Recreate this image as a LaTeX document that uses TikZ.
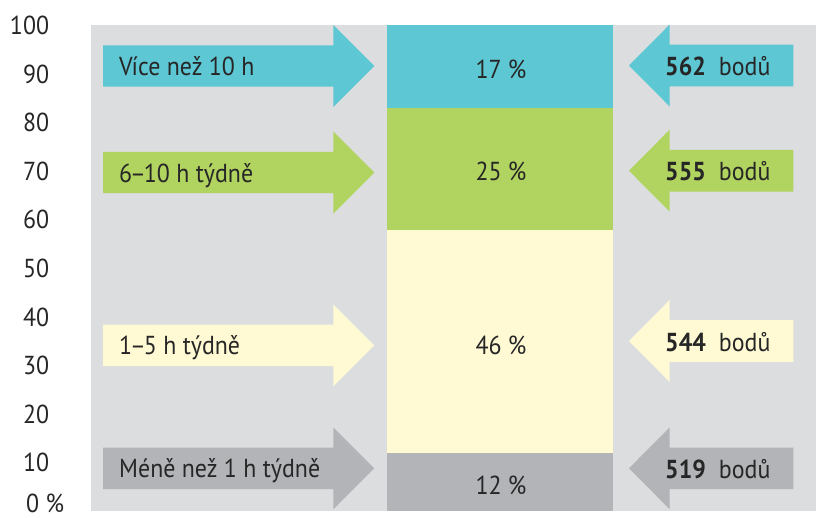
\documentclass[tikz,border=0pt]{standalone}
\usepackage{fontspec}
\setmainfont[FakeStretch=0.92]{PT Sans}
\definecolor{bgc}{HTML}{DCDDDF}
\definecolor{cyanc}{HTML}{5EC7D4}
\definecolor{greenc}{HTML}{B1D360}
\definecolor{yellowc}{HTML}{FFFAD4}
\definecolor{grayc}{HTML}{B3B4B8}
\definecolor{txt}{HTML}{262626}
\tikzset{
  seg/.style={inner sep=0pt, outer sep=0pt, anchor=north west, minimum width=226pt},
  lab/.style={inner sep=0pt, text=txt, font=\fontsize{26}{30}\selectfont},
  axlab/.style={lab, anchor=base east},
}
\begin{document}
\begin{tikzpicture}[x=1pt,y=-1pt]
\useasboundingbox (0,0) rectangle (816,517);
\fill[bgc] (91,25) rectangle (816,510.7);
% bar segments
\node[seg, fill=cyanc, minimum height=82.7pt] (s1) at (386.7,25) {};
\node[seg, fill=greenc, minimum height=122pt] (s2) at (386.7,107.7) {};
\node[seg, fill=yellowc, minimum height=223pt] (s3) at (386.7,229.7) {};
\node[seg, fill=grayc, minimum height=58pt] (s4) at (386.7,452.7) {};
\node[lab, anchor=base] (p1) at (501,78) {17 \%};
\node[lab, anchor=base] (p2) at (501,180) {25 \%};
\node[lab, anchor=base] (p3) at (501,354) {46 \%};
\node[lab, anchor=base] (p4) at (501,494) {12 \%};
% left arrows
\foreach \c/\col/\t/\n in {66/cyanc/Více než 10 h/1, 172.5/greenc/6{\kern-0.08em}–{\kern-0.08em}10 h týdně/2, 345.3/yellowc/1{\kern-0.08em}–{\kern-0.08em}5 h týdně/3, 468.3/grayc/Méně než 1 h týdně/4}{
  \begin{scope}[shift={(0,\c)}]
    \fill[\col] (103,-20.7) -- (333.3,-20.7) -- (333.3,-41) -- (374.3,0) -- (333.3,41) -- (333.3,20.7) -- (103,20.7) -- cycle;
    \node[lab, anchor=base west] (l\n) at (119,9.5) {\t};
  \end{scope}
}
% right arrows
\foreach \c/\col/\v/\n in {65.5/cyanc/562/1, 170.7/greenc/555/2, 341/yellowc/544/3, 468.3/grayc/519/4}{
  \begin{scope}[shift={(0,\c)}]
    \fill[\col] (629,0) -- (669.7,-41) -- (669.7,-20.8) -- (793.3,-20.8) -- (793.3,20.8) -- (669.7,20.8) -- (669.7,41) -- cycle;
    \node[lab, anchor=base west] (r\n) at (665,10) {\textbf{\v}\hspace{0.5em}bodů};
  \end{scope}
}
% axis
\foreach \v in {10,20,...,100}{
  \node[axlab] (a\v) at (49.3,{25+(100-\v)*4.86+9.5}) {\v};
}
\node[lab, anchor=base west] (a0) at (26,512) {0 \%};
\end{tikzpicture}
\end{document}
